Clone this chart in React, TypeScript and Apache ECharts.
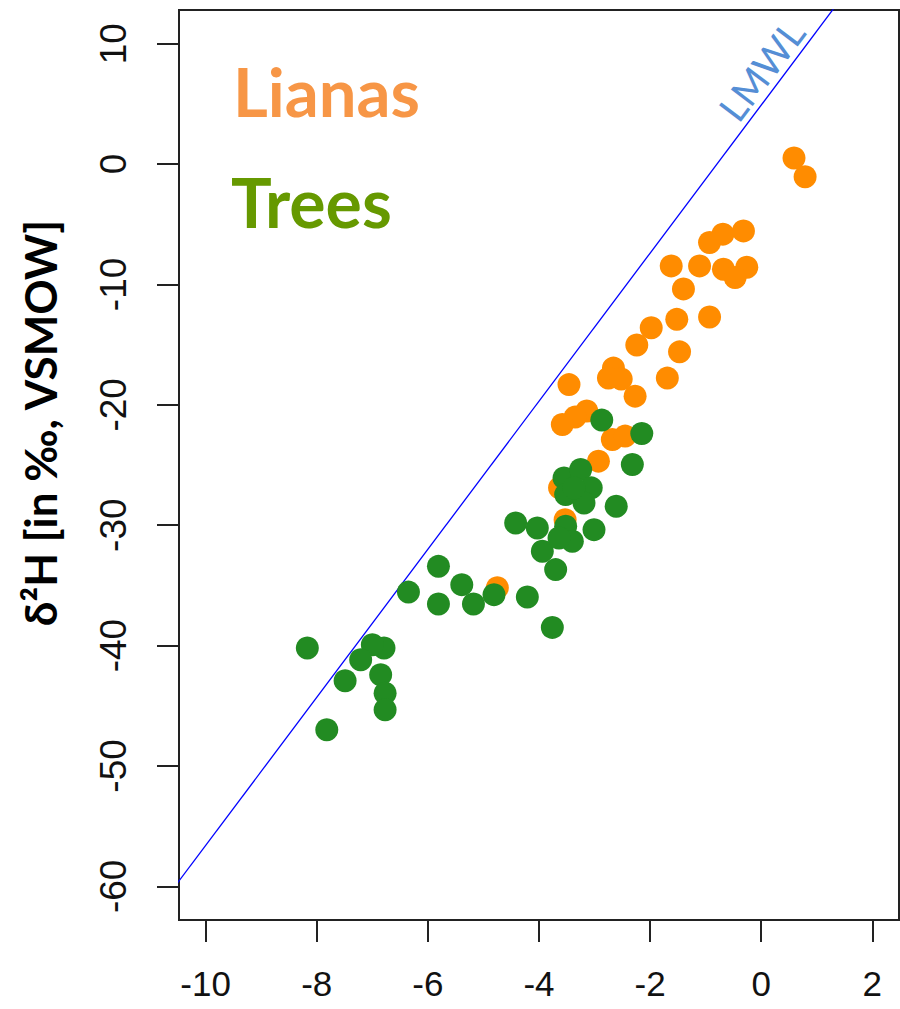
import React, { useEffect, useRef } from "react";
import * as echarts from "echarts";

// Axis ticks
const xTicks = [-10, -8, -6, -4, -2, 0, 2];
const yTicks = [-60, -50, -40, -30, -20, -10, 0, 10];

// Axis limits (R-style 4% padding around -10..2 and -60..10)
const xMin = -10.48;
const xMax = 2.48;
const yMin = -62.8;
const yMax = 12.8;

// Lianas: δ18O and δ2H (‰, VSMOW)
const lianasD18O = [
  0.59, 0.79, -0.32, -0.69, -0.93, -1.62, -1.11, -0.68, -0.26, -0.47, -1.4,
  -1.52, -0.93, -1.98, -2.24, -1.47, -2.66, -2.75, -2.52, -1.69, -3.46, -2.27,
  -3.14, -3.35, -3.58, -2.68, -2.45, -2.93, -3.63, -3.53, -4.75,
];
const lianasD2H = [
  0.5, -1.06, -5.55, -5.82, -6.52, -8.46, -8.46, -8.74, -8.57, -9.43, -10.37,
  -12.9, -12.7, -13.6, -15.03, -15.6, -16.95, -17.78, -17.86, -17.78, -18.32,
  -19.28, -20.52, -21.02, -21.63, -22.88, -22.6, -24.68, -26.9, -29.55, -35.2,
];

// Trees: δ18O and δ2H (‰, VSMOW)
const treesD18O = [
  -2.87, -2.15, -2.32, -3.55, -3.25, -3.06, -3.52, -3.19, -3.37, -2.61, -4.42,
  -4.03, -3.52, -3.01, -3.94, -3.4, -3.7, -5.81, -5.39, -6.35, -4.81, -4.21,
  -5.81, -5.18, -3.76, -6.79, -8.17, -7.0, -7.21, -7.49, -6.85, -6.77, -6.77,
  -7.82, -3.64,
];
const treesD2H = [
  -21.27, -22.38, -24.96, -26.07, -25.37, -26.9, -27.45, -28.15, -26.9, -28.43,
  -29.82, -30.23, -30.09, -30.37, -32.17, -31.34, -33.69, -33.42, -34.94,
  -35.56, -35.77, -35.97, -36.55, -36.55, -38.49, -40.2, -40.2, -39.93, -41.18,
  -42.93, -42.43, -43.96, -45.34, -47.0, -31.06,
];

// Local meteoric water line: δ2H = slope * δ18O + intercept
const lmwlSlope = 6.15;
const lmwlIntercept = 4.9;

const zip = (xs: number[], ys: number[]) => xs.map((x, i) => [x, ys[i]]);

export default function App() {
  const ref = useRef<HTMLDivElement>(null);

  useEffect(() => {
    if (!ref.current) return;
    const chart = echarts.init(ref.current, null, { renderer: "svg" });

    const lmwlData = [xMin - 1, xMax + 1].map((x) => [
      x,
      lmwlSlope * x + lmwlIntercept,
    ]);

    const axisLineStyle = { color: "#222", width: 2 };
    const tickFont = {
      fontFamily: "Liberation Sans, Arial, sans-serif",
      fontSize: 35,
      color: "#111",
    };

    chart.setOption({
      animation: false,
      backgroundColor: "#fff",
      grid: {
        left: 179,
        top: 10,
        right: 1,
        bottom: 89,
        show: true,
        borderColor: "#222",
        borderWidth: 2,
        containLabel: false,
      },
      xAxis: {
        type: "value",
        min: xMin,
        max: xMax,
        axisLine: { show: true, onZero: false, lineStyle: axisLineStyle },
        axisTick: {
          show: true,
          length: 22,
          lineStyle: axisLineStyle,
          customValues: xTicks,
        },
        axisLabel: {
          ...tickFont,
          margin: 46,
          customValues: xTicks,
        },
        splitLine: { show: false },
      },
      yAxis: {
        type: "value",
        min: yMin,
        max: yMax,
        axisLine: { show: true, onZero: false, lineStyle: axisLineStyle },
        axisTick: {
          show: true,
          length: 22,
          lineStyle: axisLineStyle,
          customValues: yTicks,
        },
        axisLabel: {
          ...tickFont,
          fontSize: 37,
          rotate: 90,
          margin: 47,
          customValues: yTicks,
        },
        splitLine: { show: false },
      },
      series: [
        {
          name: "LMWL",
          type: "line",
          data: lmwlData,
          showSymbol: false,
          clip: true,
          lineStyle: { color: "#0000ff", width: 1.3 },
          z: 1,
        },
        {
          name: "Lianas",
          type: "scatter",
          data: zip(lianasD18O, lianasD2H),
          symbol: "circle",
          symbolSize: 23,
          itemStyle: { color: "#ff8c00", opacity: 1 },
          z: 2,
        },
        {
          name: "Trees",
          type: "scatter",
          data: zip(treesD18O, treesD2H),
          symbol: "circle",
          symbolSize: 23,
          itemStyle: { color: "#228b22", opacity: 1 },
          z: 3,
        },
      ],
      graphic: [
        {
          type: "text",
          x: 233,
          y: 91,
          style: {
            text: "Lianas",
            fill: "#f79646",
            font: "bold 67px Lato, 'Open Sans', sans-serif",
            align: "left",
            verticalAlign: "middle",
          },
        },
        {
          type: "text",
          x: 231,
          y: 201,
          style: {
            text: "Trees",
            fill: "#669900",
            font: "bold 68px Lato, 'Open Sans', sans-serif",
            align: "left",
            verticalAlign: "middle",
          },
        },
        {
          type: "text",
          x: 761,
          y: 70,
          rotation: 0.925,
          style: {
            text: "LMWL",
            fill: "#558ed5",
            font: "38px Lato, 'Open Sans', sans-serif",
            align: "center",
            verticalAlign: "middle",
          },
        },
        {
          type: "text",
          x: 40,
          y: 423,
          rotation: Math.PI / 2,
          style: {
            text: "δ²H [in ‰, VSMOW]",
            fill: "#000",
            font: "bold 44px Lato, 'Open Sans', sans-serif",
            align: "center",
            verticalAlign: "middle",
          },
        },
      ],
    });

    return () => chart.dispose();
  }, []);

  return (
    <div
      ref={ref}
      style={{
        position: "absolute",
        left: 0,
        top: 0,
        width: 900,
        height: 1009,
      }}
    />
  );
}
